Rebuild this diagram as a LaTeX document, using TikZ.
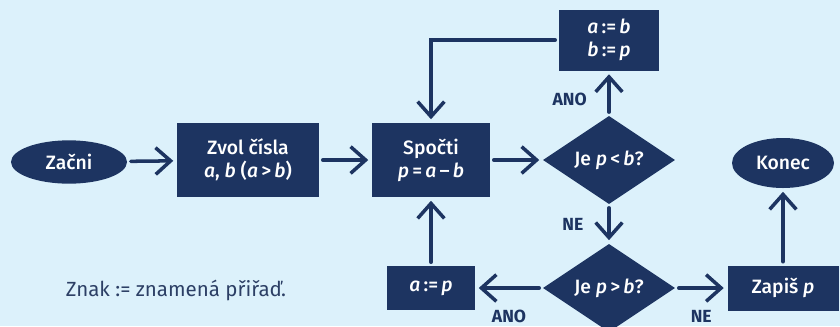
\documentclass[tikz,border=0pt]{standalone}
\usepackage{fontspec}
\setmainfont{Fira Sans}
\newfontfamily\medfont{Fira Sans Medium}
\usetikzlibrary{shapes.geometric,arrows.meta}
\definecolor{navy}{HTML}{1D3461}
\definecolor{sky}{HTML}{DCF1FB}
\newcommand{\vr}[1]{\textit{#1}}

\begin{document}
\begin{tikzpicture}[x=0.03cm,y=-0.03cm,
  box/.style={fill=navy,text=white,font=\medfont\fontsize{16.5}{19.5}\selectfont,align=center,inner sep=0pt},
  oval/.style={box,ellipse},
  rhomb/.style={box,diamond,minimum width=3.96cm,minimum height=2.22cm},
  arr/.style={draw=navy,line width=3pt,line cap=round,-{Straight Barb[length=4.5mm,width=8mm]},shorten <=3pt,shorten >=3pt},
  lbl/.style={text=navy,font=\bfseries\fontsize{15}{17}\selectfont}]
\fill[sky] (0,0) rectangle (840,326);
\useasboundingbox (0,0) rectangle (840,326);
\node[oval,minimum width=3.48cm,minimum height=1.3cm] (Z) at (69,162) {Začni};
\node[box,minimum width=4.26cm,minimum height=2.22cm] (V) at (248,160) {Zvol čísla\\\vr{a}, \vr{b} (\vr{a}\,>\,\vr{b})};
\node[box,minimum width=3.54cm,minimum height=2.22cm] (S) at (431,160) {Spočti\\\vr{p}\,=\,\vr{a}\,–\,\vr{b}};
\node[rhomb] (D1) at (609,160) {Je \vr{p}\,<\,\vr{b}?};
\node[box,minimum width=3cm,minimum height=1.83cm] (AB) at (609,40) {\vr{a}\,:=\,\vr{b}\\\vr{b}\,:=\,\vr{p}};
\node[rhomb] (D2) at (609,288) {Je \vr{p}\,>\,\vr{b}?};
\node[box,minimum width=2.64cm,minimum height=1.32cm] (AP) at (431,288) {\vr{a}\,:=\,\vr{p}};
\node[box,minimum width=3.33cm,minimum height=1.35cm] (ZP) at (783,288) {Zapiš \vr{p}};
\node[oval,minimum width=3.06cm,minimum height=1.5cm] (K) at (783,163) {Konec};
\node[text=navy!85!gray,font=\fontsize{17.5}{20}\selectfont] (N) at (176,290) {Znak := znamená přiřaď.};
\draw[arr] (Z) -- (V);
\draw[arr] (V) -- (S);
\draw[arr] (S) -- (D1);
\draw[arr] (D1) -- node[lbl,pos=0.37,left=0.5cm] {ANO} (AB);
\draw[arr] (AB.west) -| (S.north);
\draw[arr] (D1) -- node[lbl,pos=0.5,left=0.6cm] {NE} (D2);
\draw[arr] (D2) -- node[lbl,pos=0.5,below=0.5cm] {ANO} (AP);
\draw[arr] (AP) -- (S);
\draw[arr] (D2) -- node[lbl,pos=0.5,below=0.5cm] {NE} (ZP);
\draw[arr] (ZP) -- (K);
\end{tikzpicture}
\end{document}
